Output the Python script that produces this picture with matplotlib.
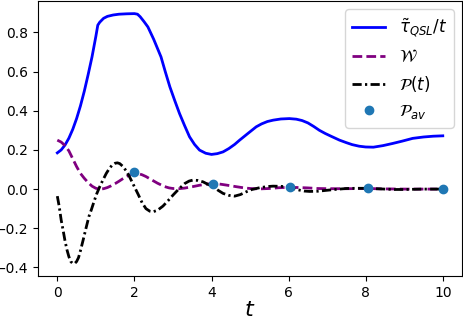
import matplotlib
matplotlib.use('Agg')
import matplotlib.pyplot as plt

# tau_QSL / t (blue solid)
t_tau = [0, 0.1, 0.2, 0.3, 0.4, 0.5, 0.6, 0.7, 0.8, 0.9, 1.0, 1.05, 1.1, 1.2, 1.3,
         1.45, 1.6, 1.8, 2.0, 2.08, 2.15, 2.25, 2.35, 2.5, 2.69, 2.8, 2.92, 3.05,
         3.17, 3.3, 3.43, 3.56, 3.69, 3.85, 4.0, 4.15, 4.3, 4.45, 4.6, 4.73, 4.95,
         5.16, 5.3, 5.45, 5.6, 5.8, 6.02, 6.2, 6.35, 6.5, 6.65, 6.8, 6.95, 7.1,
         7.32, 7.5, 7.65, 7.83, 8.0, 8.2, 8.45, 8.7, 8.95, 9.22, 9.5, 9.75, 10.0]
tau = [0.185, 0.2, 0.225, 0.26, 0.305, 0.36, 0.425, 0.5, 0.585, 0.675, 0.78,
       0.837, 0.852, 0.872, 0.882, 0.889, 0.893, 0.895, 0.896, 0.893, 0.88, 0.855,
       0.828, 0.765, 0.675, 0.6, 0.522, 0.45, 0.386, 0.325, 0.267, 0.228, 0.199,
       0.183, 0.177, 0.181, 0.19, 0.207, 0.228, 0.25, 0.285, 0.318, 0.333, 0.345,
       0.352, 0.358, 0.36, 0.357, 0.35, 0.338, 0.32, 0.30, 0.284, 0.27, 0.25,
       0.237, 0.227, 0.219, 0.215, 0.214, 0.222, 0.233, 0.245, 0.259, 0.266,
       0.27, 0.272]

# W (purple dashed)
t_w = [0, 0.1, 0.2, 0.3, 0.4, 0.5, 0.6, 0.7, 0.8, 0.9, 1.0, 1.1, 1.2, 1.3, 1.4,
       1.5, 1.6, 1.7, 1.8, 1.9, 2.0, 2.1, 2.2, 2.3, 2.44, 2.6, 2.78, 2.9, 3.0,
       3.15, 3.3, 3.5, 3.7, 3.9, 4.04, 4.2, 4.4, 4.65, 4.85, 5.0, 5.25, 5.5,
       5.75, 6.0, 6.25, 6.5, 6.75, 7.0, 7.5, 8.0, 8.5, 9.0, 9.5, 10.0]
w = [0.25, 0.24, 0.222, 0.195, 0.155, 0.115, 0.08, 0.055, 0.033, 0.015, 0.004,
     0.0, 0.002, 0.008, 0.017, 0.028, 0.04, 0.053, 0.065, 0.074, 0.079, 0.079,
     0.073, 0.064, 0.048, 0.03, 0.013, 0.006, 0.003, 0.002, 0.005, 0.012, 0.02,
     0.026, 0.028, 0.026, 0.02, 0.012, 0.006, 0.003, 0.001, 0.003, 0.007, 0.009,
     0.008, 0.006, 0.003, 0.002, 0.002, 0.003, 0.001, 0.0, 0.0, 0.0]

# P(t) (black dash-dot)
t_p = [0, 0.05, 0.1, 0.15, 0.2, 0.25, 0.3, 0.35, 0.4, 0.45, 0.5, 0.55, 0.6, 0.67,
       0.75, 0.82, 0.88, 0.95, 1.02, 1.1, 1.18, 1.27, 1.35, 1.42, 1.5, 1.56,
       1.62, 1.7, 1.78, 1.86, 1.93, 2.0, 2.1, 2.2, 2.3, 2.4, 2.48, 2.6, 2.74,
       2.87, 3.0, 3.15, 3.31, 3.42, 3.52, 3.65, 3.78, 3.9, 4.04, 4.17, 4.3, 4.45,
       4.6, 4.75, 4.9, 5.05, 5.25, 5.45, 5.6, 5.8, 5.94, 6.1, 6.25, 6.4, 6.55,
       6.75, 6.9, 7.2, 7.5, 7.75, 8.0, 8.25, 8.5, 8.75, 9.0, 9.5, 10.0]
p = [-0.036, -0.09, -0.158, -0.21, -0.265, -0.31, -0.345, -0.37, -0.38, -0.38,
     -0.37, -0.35, -0.315, -0.26, -0.195, -0.14, -0.107, -0.065, -0.025, 0.012,
     0.045, 0.08, 0.105, 0.122, 0.132, 0.134, 0.13, 0.116, 0.095, 0.068, 0.04,
     0.012, -0.028, -0.07, -0.1, -0.113, -0.116, -0.108, -0.087, -0.06, -0.031,
     0.0, 0.029, 0.041, 0.046, 0.044, 0.037, 0.025, 0.012, -0.006, -0.022,
     -0.032, -0.036, -0.028, -0.014, -0.002, 0.007, 0.013, 0.015, 0.014, 0.012,
     0.004, -0.004, -0.01, -0.012, -0.011, -0.008, -0.002, 0.003, 0.004, 0.004,
     0.002, 0.0, -0.002, -0.002, 0.0, 0.0]

# P_av (dots)
t_av = [2.0, 4.03, 6.03, 8.06, 10.0]
p_av = [0.085, 0.028, 0.01, 0.003, 0.0]

fig = plt.figure(figsize=(4.64, 3.2), dpi=100)
ax = fig.add_axes([0.082, 0.1375, 0.9138, 0.859])

ax.plot(t_tau, tau, color='blue', lw=2, label=r'$\tilde{\tau}_{QSL}/t$')
ax.plot(t_w, w, '--', color='purple', lw=2, dashes=(3.5, 1.5),
        label=r'$\mathcal{W}$')
ax.plot(t_p, p, '-.', color='black', lw=2, dashes=(3.3, 1.2, 0.8, 1.2),
        label=r'$\mathcal{P}(t)$')
ax.plot(t_av, p_av, 'o', color='tab:blue', ms=6, label=r'$\mathcal{P}_{av}$')

ax.set_xlabel(r'$t$', fontsize=16, labelpad=0)
ax.set_xticks([0, 2, 4, 6, 8, 10])
ax.tick_params(labelsize=10)
ax.legend(loc='upper right', fontsize=12)

fig.savefig('out.png', dpi=100)
